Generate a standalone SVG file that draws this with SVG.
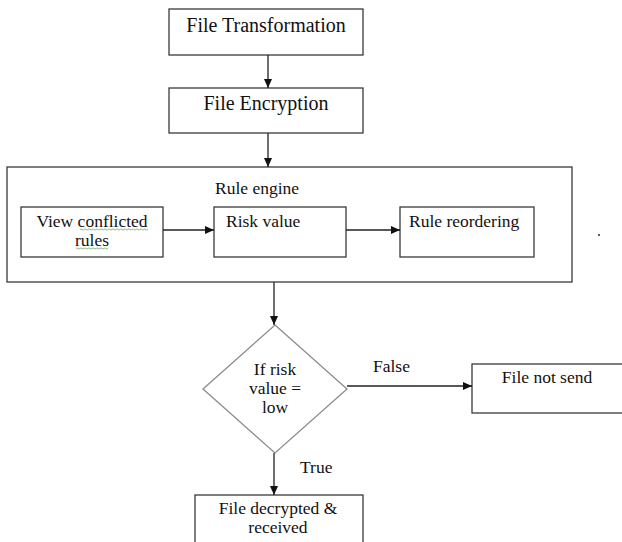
<svg xmlns="http://www.w3.org/2000/svg" width="622" height="542" viewBox="0 0 622 542">
<style>
  .box { fill: #fff; stroke: #3a3a3a; stroke-width: 1.3; }
  .dia { fill: #fff; stroke: #8c8c8c; stroke-width: 1.3; }
  .t { font-family: "Liberation Serif", "Times New Roman", serif; font-size: 17.5px; fill: #111; }
  .big { font-size: 20px; }
  .c { text-anchor: middle; }
  .edge { stroke: #222; stroke-width: 1.3; fill: none; marker-end: url(#ah); }
  .sq { stroke: #6aa86a; stroke-width: 0.8; fill: none; }
</style>
<defs>
  <marker id="ah" markerWidth="9" markerHeight="8" refX="9" refY="4" orient="auto" markerUnits="userSpaceOnUse">
    <path d="M0,0 L9,4 L0,8 Z" fill="#111"/>
  </marker>
</defs>
<rect width="622" height="542" fill="#fff"/>

<g id="file-transformation">
  <rect class="box" x="169" y="9" width="194" height="46"/>
  <text class="t big c" x="266" y="32">File Transformation</text>
</g>

<g id="file-encryption">
  <rect class="box" x="169" y="88" width="194" height="45"/>
  <text class="t big c" x="266" y="110">File Encryption</text>
</g>

<g id="rule-engine">
  <rect class="box" x="7" y="167" width="565" height="115"/>
  <text class="t" x="215" y="194">Rule engine</text>
</g>

<g id="view-conflicted-rules">
  <rect class="box" x="21" y="207" width="142" height="50"/>
  <text class="t c" x="92" y="227">View conflicted</text>
  <text class="t c" x="92" y="246">rules</text>
  <path class="sq" d="M80,229.5 q1,-1.2 2,0 t2,0 t2,0 t2,0 t2,0 t2,0 t2,0 t2,0 t2,0 t2,0 t2,0 t2,0 t2,0 t2,0 t2,0 t2,0 t2,0 t2,0 t2,0 t2,0 t2,0 t2,0 t2,0 t2,0 t2,0 t2,0 t2,0 t2,0 t2,0 t2,0 t2,0 t2,0 t2,0 t2,0"/>
  <path class="sq" d="M76,248.5 q1,-1.2 2,0 t2,0 t2,0 t2,0 t2,0 t2,0 t2,0 t2,0 t2,0 t2,0 t2,0 t2,0 t2,0 t2,0 t2,0 t2,0"/>
</g>

<g id="risk-value">
  <rect class="box" x="214" y="207" width="132" height="50"/>
  <text class="t" x="226" y="227">Risk value</text>
</g>

<g id="rule-reordering">
  <rect class="box" x="400" y="207" width="134" height="50"/>
  <text class="t" x="409" y="227">Rule reordering</text>
</g>

<circle cx="599" cy="235" r="1" fill="#222"/>

<g id="decision">
  <polygon class="dia" points="275,325 347,389 275,453 203,389"/>
  <text class="t c" x="275" y="375">If risk</text>
  <text class="t c" x="275" y="394">value =</text>
  <text class="t c" x="275" y="413">low</text>
</g>

<g id="file-not-send">
  <rect class="box" x="472" y="364" width="160" height="49"/>
  <text class="t c" x="547" y="383">File not send</text>
</g>

<g id="file-decrypted">
  <rect class="box" x="195" y="495" width="168" height="60"/>
  <text class="t c" x="278" y="514">File decrypted &amp;</text>
  <text class="t c" x="278" y="533">received</text>
</g>

<g id="connectors">
  <line class="edge" x1="268" y1="55" x2="268" y2="88"/>
  <line class="edge" x1="268" y1="133" x2="268" y2="167"/>
  <line class="edge" x1="163" y1="230" x2="214" y2="230"/>
  <line class="edge" x1="346" y1="230" x2="400" y2="230"/>
  <line class="edge" x1="274" y1="282" x2="274" y2="325"/>
  <line class="edge" x1="347" y1="386" x2="472" y2="386"/>
  <line class="edge" x1="274" y1="453" x2="274" y2="495"/>
  <text class="t" x="373" y="372">False</text>
  <text class="t" x="300" y="473">True</text>
</g>
</svg>
